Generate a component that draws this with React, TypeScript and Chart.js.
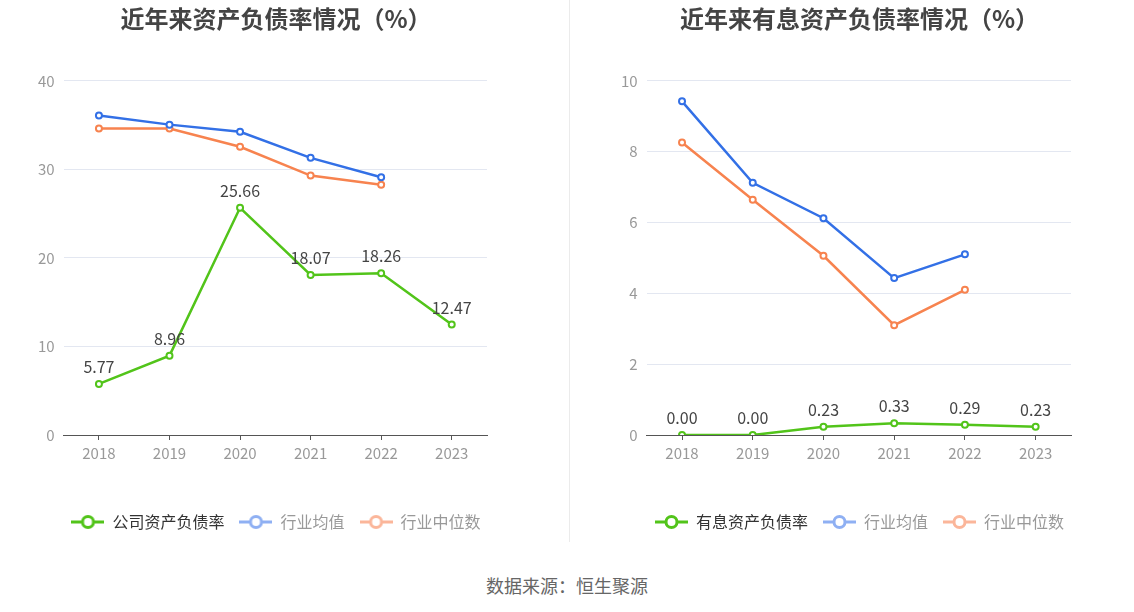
import { useEffect, useRef } from 'react'
import { Chart, registerables } from 'chart.js'

Chart.register(...registerables)

const YEARS = ['2018', '2019', '2020', '2021', '2022', '2023']

// 左图：资产负债率
const DEBT_RATIO = [5.77, 8.96, 25.66, 18.07, 18.26, 12.47]
const DEBT_AVG = [36.07, 35.05, 34.25, 31.3, 29.1, null]
const DEBT_MEDIAN = [34.6, 34.6, 32.55, 29.3, 28.25, null]

// 右图：有息资产负债率
const IB_RATIO = [0.0, 0.0, 0.23, 0.33, 0.29, 0.23]
const IB_AVG = [9.42, 7.12, 6.12, 4.43, 5.1, null]
const IB_MEDIAN = [8.26, 6.64, 5.06, 3.1, 4.1, null]

const LEFT_TICKS = [0, 10, 20, 30, 40]
const RIGHT_TICKS = [0, 2, 4, 6, 8, 10]

const GREEN = '#52c41a'
const BLUE = '#3370e6'
const ORANGE = '#f7834f'
const FONT = '"Noto Sans CJK SC", "Noto Sans", sans-serif'

function legendIcon(color: string) {
  const c = document.createElement('canvas')
  c.width = 33
  c.height = 16
  const g = c.getContext('2d')!
  g.strokeStyle = color
  g.lineWidth = 3
  g.beginPath()
  g.moveTo(0, 8)
  g.lineTo(33, 8)
  g.stroke()
  g.fillStyle = '#fff'
  g.beginPath()
  g.arc(16.5, 8, 5.5, 0, Math.PI * 2)
  g.fill()
  g.stroke()
  return c
}

const valueLabels = {
  id: 'valueLabels',
  afterDatasetsDraw(chart: Chart) {
    const meta = chart.getDatasetMeta(0)
    const data = chart.data.datasets[0].data as number[]
    const ctx = chart.ctx
    ctx.save()
    ctx.font = `16px ${FONT}`
    ctx.fillStyle = '#444'
    ctx.textAlign = 'center'
    ctx.textBaseline = 'bottom'
    meta.data.forEach((pt, i) => {
      ctx.fillText(data[i].toFixed(2), pt.x, pt.y - 9)
    })
    ctx.restore()
  },
}

// title and legend sit a bit right of the plot centre in the original
const boxShift = {
  id: 'boxShift',
  afterLayout(chart: any) {
    const lg = chart.legend
    if (lg) {
      lg.left += 18
      lg.right += 18
    }
    const tt = chart.titleBlock
    if (tt) {
      tt.left += 18
      tt.right += 18
    }
  },
}

interface PanelProps {
  title: string
  mainLabel: string
  main: number[]
  avg: (number | null)[]
  median: (number | null)[]
  ticks: number[]
  padLeft: number
  padRight: number
}

function Panel({ title, mainLabel, main, avg, median, ticks, padLeft, padRight }: PanelProps) {
  const ref = useRef<HTMLCanvasElement>(null)

  useEffect(() => {
    if (!ref.current) return
    const ds = (label: string, data: (number | null)[], color: string) => ({
      label,
      data,
      borderColor: color,
      backgroundColor: '#fff',
      borderWidth: 2.5,
      pointRadius: 3,
      pointBorderWidth: 2,
      pointBackgroundColor: '#fff',
      pointBorderColor: color,
      tension: 0,
    })
    const icons = [legendIcon(GREEN), legendIcon('#8fb0f3'), legendIcon('#fbb69a')]
    const chart = new Chart(ref.current, {
      type: 'line',
      data: {
        labels: YEARS,
        datasets: [
          ds(mainLabel, main, GREEN),
          ds('行业均值', avg, BLUE),
          ds('行业中位数', median, ORANGE),
        ],
      },
      options: {
        animation: false,
        responsive: false,
        layout: { padding: { left: padLeft, right: padRight, top: 0, bottom: 5 } },
        plugins: {
          title: {
            display: true,
            text: title,
            color: '#444',
            font: { family: FONT, size: 24, weight: 'bold' },
            padding: { top: 4, bottom: 48 },
          },
          legend: {
            position: 'bottom',
            labels: {
              usePointStyle: true,
              pointStyleWidth: 33,
              padding: 15,
              font: { family: FONT, size: 16 },
              generateLabels: (c: Chart) =>
                c.data.datasets.map((d, i) => ({
                  text: d.label as string,
                  datasetIndex: i,
                  pointStyle: icons[i],
                  fillStyle: '#fff',
                  strokeStyle: '#fff',
                  lineWidth: 0,
                  fontColor: i === 0 ? '#333' : '#999',
                  hidden: false,
                })),
            },
          },
          tooltip: { enabled: false },
        },
        scales: {
          x: {
            offset: true,
            grid: { display: true, drawOnChartArea: false, drawTicks: true, tickLength: 5, color: '#555', offset: false },
            border: { color: '#555', width: 1 },
            ticks: { color: '#999', padding: 4, font: { family: FONT, size: 15 } },
            afterFit: (scale: any) => {
              scale.height = scale.height + 33
            },
          },
          y: {
            min: ticks[0],
            max: ticks[ticks.length - 1],
            afterBuildTicks: (scale: any) => {
              scale.ticks = ticks.map((v) => ({ value: v }))
            },
            grid: { color: '#e3e7f1', drawTicks: false },
            border: { display: false },
            ticks: { color: '#999', padding: 9, font: { family: FONT, size: 15 } },
          },
        },
      },
      plugins: [valueLabels, boxShift],
    })
    return () => chart.destroy()
  }, [])

  return <canvas ref={ref} width={567} height={545} style={{ display: 'block' }} />
}

export default function App() {
  return (
    <div style={{ position: 'fixed', left: 0, top: 0, width: 1134, height: 612, background: '#fff' }}>
      <div style={{ position: 'absolute', left: 0, top: 0 }}>
        <Panel
          title="近年来资产负债率情况（%）"
          mainLabel="公司资产负债率"
          main={DEBT_RATIO}
          avg={DEBT_AVG}
          median={DEBT_MEDIAN}
          ticks={LEFT_TICKS}
          padLeft={29}
          padRight={80}
        />
      </div>
      <div style={{ position: 'absolute', left: 569, top: 0, width: 1, height: 542, background: '#ebebeb' }} />
      <div style={{ position: 'absolute', left: 567, top: 0 }}>
        <Panel
          title="近年来有息资产负债率情况（%）"
          mainLabel="有息资产负债率"
          main={IB_RATIO}
          avg={IB_AVG}
          median={IB_MEDIAN}
          ticks={RIGHT_TICKS}
          padLeft={45}
          padRight={63}
        />
      </div>
      <div
        style={{
          position: 'absolute',
          left: 0,
          top: 572,
          width: 1134,
          textAlign: 'center',
          fontFamily: FONT,
          fontSize: 18,
          color: '#666',
        }}
      >
        数据来源：恒生聚源
      </div>
    </div>
  )
}
